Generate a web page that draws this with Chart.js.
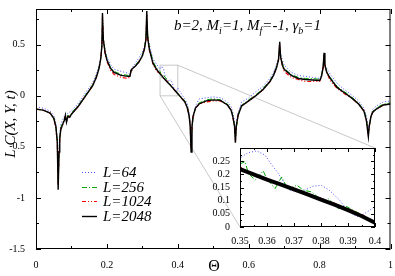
<!DOCTYPE html>
<html>
<head>
<meta charset="utf-8">
<script src="https://cdn.jsdelivr.net/npm/chart.js@4/dist/chart.umd.min.js"></script>
<style>
    html, body { margin: 0; padding: 0; background: #fff; }
    #wrap { position: relative; width: 395px; height: 276px; }
    #main { position: absolute; left: 0; top: 0; }
    #inset { position: absolute; left: 200px; top: 140px; }
</style>
</head>
<body>
<div id="wrap">
    <canvas id="main" width="395" height="276"></canvas>
    <canvas id="inset" width="185" height="105"></canvas>
</div>
<script>
// main panel data
const theta = [0, 0.02, 0.04, 0.05, 0.056, 0.06, 0.0625, 0.065, 0.067, 0.07, 0.075, 0.08, 0.083, 0.086, 0.09, 0.095, 0.1, 0.12, 0.14, 0.16,
    0.17, 0.178, 0.183, 0.186, 0.1875, 0.19, 0.195, 0.2, 0.21, 0.22, 0.24, 0.26, 0.265, 0.268, 0.27, 0.28, 0.29, 0.3, 0.306, 0.31,
    0.3125, 0.315, 0.32, 0.33, 0.34, 0.35, 0.355, 0.36, 0.365, 0.37, 0.375, 0.38, 0.385, 0.39, 0.395, 0.4, 0.41, 0.42, 0.427, 0.432,
    0.435, 0.4375, 0.44, 0.443, 0.45, 0.46, 0.48, 0.5, 0.52, 0.54, 0.55, 0.555, 0.56, 0.5625, 0.565, 0.57, 0.58, 0.6, 0.62, 0.64,
    0.66, 0.67, 0.678, 0.684, 0.6875, 0.69, 0.695, 0.7, 0.72, 0.74, 0.76, 0.78, 0.8, 0.802, 0.806, 0.81, 0.8125, 0.815, 0.82, 0.83,
    0.85, 0.87, 0.89, 0.91, 0.925, 0.932, 0.9375, 0.94, 0.945, 0.95, 0.96, 0.98, 1];

const valL2048 = [-0.13, -0.14, -0.17, -0.22, -0.3, -0.45, -0.92, -0.55, -0.42, -0.33, -0.28, -0.24, -0.19, -0.26, -0.2, -0.21, -0.18, -0.1, 0.0, 0.1,
    0.18, 0.27, 0.37, 0.5, 0.81, 0.55, 0.42, 0.35, 0.27, 0.23, 0.2, 0.19, 0.19, 0.25, 0.26, 0.29, 0.33, 0.39, 0.46, 0.55,
    0.83, 0.57, 0.45, 0.32, 0.26, 0.215, 0.195, 0.175, 0.155, 0.135, 0.118, 0.1, 0.08, 0.06, 0.04, 0.02, -0.02, -0.06, -0.12, -0.2,
    -0.3, -0.55, -0.3, -0.2, -0.12, -0.08, -0.05, -0.04, -0.045, -0.09, -0.14, -0.2, -0.3, -0.46, -0.3, -0.19, -0.1, -0.05, 0.0, 0.06,
    0.14, 0.2, 0.27, 0.35, 0.53, 0.38, 0.3, 0.26, 0.2, 0.17, 0.16, 0.155, 0.15, 0.16, 0.2, 0.28, 0.42, 0.3, 0.23, 0.17,
    0.08, 0.03, -0.02, -0.08, -0.15, -0.24, -0.4, -0.3, -0.2, -0.16, -0.13, -0.09, -0.08];

const valL1024 = [-0.13, -0.14, -0.17, -0.22, -0.31, -0.46, -0.88, -0.56, -0.43, -0.32, -0.29, -0.23, -0.2, -0.25, -0.21, -0.2, -0.18, -0.1, 0.0, 0.1,
    0.18, 0.27, 0.37, 0.5, 0.77, 0.55, 0.41, 0.34, 0.25, 0.21, 0.18, 0.17, 0.19, 0.24, 0.26, 0.29, 0.33, 0.39, 0.46, 0.55,
    0.79, 0.57, 0.45, 0.31, 0.24, 0.22, 0.2, 0.17, 0.16, 0.14, 0.12, 0.1, 0.08, 0.06, 0.04, 0.02, -0.02, -0.06, -0.12, -0.2,
    -0.3, -0.52, -0.31, -0.21, -0.12, -0.08, -0.06, -0.05, -0.05, -0.09, -0.14, -0.2, -0.3, -0.45, -0.31, -0.19, -0.1, -0.05, 0.0, 0.06,
    0.14, 0.2, 0.27, 0.35, 0.51, 0.38, 0.3, 0.24, 0.18, 0.16, 0.14, 0.14, 0.14, 0.16, 0.2, 0.28, 0.4, 0.3, 0.23, 0.15,
    0.07, 0.02, -0.02, -0.08, -0.15, -0.24, -0.38, -0.3, -0.2, -0.16, -0.13, -0.09, -0.08];

const valL256 = [-0.13, -0.14, -0.17, -0.21, -0.29, -0.44, -0.85, -0.58, -0.4, -0.31, -0.27, -0.22, -0.2, -0.24, -0.19, -0.2, -0.17, -0.09, 0.01, 0.11,
    0.19, 0.28, 0.38, 0.5, 0.72, 0.56, 0.44, 0.36, 0.28, 0.24, 0.21, 0.2, 0.19, 0.24, 0.26, 0.3, 0.34, 0.4, 0.47, 0.56,
    0.74, 0.6, 0.47, 0.34, 0.27, 0.24, 0.18, 0.2, 0.18, 0.15, 0.13, 0.1, 0.075, 0.06, 0.04, 0.025, -0.01, -0.05, -0.1, -0.19,
    -0.28, -0.48, -0.33, -0.22, -0.12, -0.07, -0.04, -0.03, -0.04, -0.08, -0.13, -0.19, -0.28, -0.42, -0.32, -0.2, -0.09, -0.04, 0.01, 0.07,
    0.15, 0.21, 0.28, 0.36, 0.48, 0.4, 0.32, 0.27, 0.21, 0.18, 0.17, 0.17, 0.16, 0.17, 0.21, 0.29, 0.38, 0.32, 0.24, 0.18,
    0.09, 0.04, -0.01, -0.07, -0.14, -0.22, -0.36, -0.31, -0.21, -0.15, -0.12, -0.08, -0.07];

const valL64 = [-0.11, -0.12, -0.15, -0.19, -0.27, -0.42, -0.74, -0.5, -0.37, -0.28, -0.23, -0.2, -0.18, -0.19, -0.17, -0.16, -0.15, -0.07, 0.03, 0.13,
    0.21, 0.3, 0.39, 0.48, 0.62, 0.52, 0.45, 0.38, 0.31, 0.26, 0.24, 0.22, 0.21, 0.24, 0.27, 0.32, 0.37, 0.43, 0.49, 0.56,
    0.66, 0.58, 0.5, 0.36, 0.31, 0.26, 0.289, 0.26, 0.18, 0.16, 0.14, 0.158, 0.12, 0.06, 0.045, 0.076, 0.02, -0.03, -0.08, -0.16,
    -0.25, -0.4, -0.3, -0.22, -0.1, -0.03, -0.02, -0.01, -0.02, -0.06, -0.1, -0.16, -0.25, -0.36, -0.27, -0.17, -0.06, -0.02, 0.04, 0.09,
    0.17, 0.23, 0.3, 0.36, 0.44, 0.41, 0.35, 0.3, 0.23, 0.2, 0.19, 0.18, 0.17, 0.18, 0.22, 0.28, 0.34, 0.31, 0.27, 0.21,
    0.12, 0.06, 0.01, -0.05, -0.12, -0.2, -0.32, -0.28, -0.2, -0.13, -0.1, -0.06, -0.05];

const xTicks = [0, 0.2, 0.4, 0.6, 0.8, 1];
const xMinor = [0.1, 0.3, 0.5, 0.7, 0.9];
const yTicks = [-1.5, -1, -0.5, 0, 0.5];
const yMinor = [-1.25, -0.75, -0.25, 0.25, 0.75];

// inset data
const insetTheta2048 = [0.35, 0.355, 0.36, 0.365, 0.37, 0.375, 0.38, 0.385, 0.39, 0.395, 0.4];
const insetL2048 = [0.22, 0.2, 0.18, 0.162, 0.143, 0.124, 0.104, 0.085, 0.064, 0.042, 0.016];
const insetTheta1024 = [0.35, 0.3525, 0.355, 0.3575, 0.36, 0.3625, 0.365, 0.3675, 0.37, 0.3725, 0.375, 0.3775, 0.38, 0.3825, 0.385, 0.3875, 0.39, 0.3925, 0.395, 0.3975, 0.4];
const insetL1024 = [0.228, 0.21, 0.203, 0.19, 0.186, 0.172, 0.166, 0.152, 0.15, 0.133, 0.128, 0.117, 0.11, 0.097, 0.09, 0.078, 0.07, 0.058, 0.048, 0.032, 0.018];
const insetTheta256 = [0.35, 0.3519, 0.3531, 0.3556, 0.3586, 0.3599, 0.363, 0.3654, 0.3679, 0.371, 0.3735, 0.3765, 0.379, 0.382, 0.3826, 0.3864, 0.389, 0.3932, 0.3975, 0.4];
const insetL256 = [0.24, 0.248, 0.203, 0.178, 0.213, 0.184, 0.146, 0.19, 0.14, 0.159, 0.14, 0.133, 0.112, 0.095, 0.108, 0.07, 0.08, 0.057, 0.032, 0.02];
const insetTheta64 = [0.35, 0.3506, 0.353, 0.3562, 0.3593, 0.3615, 0.3642, 0.3668, 0.3685, 0.371, 0.374, 0.377, 0.3802, 0.383, 0.387, 0.39, 0.3932, 0.395, 0.3975, 0.4];
const insetL64 = [0.255, 0.266, 0.282, 0.289, 0.273, 0.24, 0.203, 0.16, 0.14, 0.134, 0.14, 0.155, 0.158, 0.14, 0.101, 0.06, 0.04, 0.044, 0.06, 0.078];
const insetXTicks = [0.35, 0.36, 0.37, 0.38, 0.39, 0.4];
const insetXMinor = [0.355, 0.365, 0.375, 0.385, 0.395];
const insetYTicks = [0, 0.05, 0.1, 0.15, 0.2, 0.25];
const insetYMinor = [0.025, 0.075, 0.125, 0.175, 0.225, 0.275];

const seriesNames = ['L=64', 'L=256', 'L=1024', 'L=2048'];
const seriesColors = ['#5050ff', '#00a800', '#ff0000', '#000000'];
const seriesDash = [[1, 2], [5, 2, 1, 2], [4, 2, 1, 2, 1, 2], []];

const SERIF = '"Liberation Serif", "DejaVu Serif", serif';

function points(xs, ys) {
    return xs.map((x, i) => ({ x: x, y: ys[i] }));
}

function makeDatasets(sets, widths) {
    // sets in order L=64, 256, 1024, 2048; black drawn on top
    return sets.map((d, i) => ({
        label: seriesNames[i],
        data: d,
        borderColor: seriesColors[i],
        borderWidth: widths[i],
        borderDash: seriesDash[i],
        pointRadius: 0,
        tension: 0,
        fill: false,
        order: 3 - i
    }));
}

function drawFrameTicks(chart, xMaj, xMin, yMaj, yMin, majLen, minLen) {
    const ctx = chart.ctx;
    const a = chart.chartArea;
    const xs = chart.scales.x, ys = chart.scales.y;
    ctx.save();
    ctx.strokeStyle = '#000';
    ctx.lineWidth = 1;
    ctx.strokeRect(a.left + 0.5, a.top + 0.5, a.right - a.left - 1, a.bottom - a.top - 1);
    ctx.beginPath();
    const xt = (v, len) => {
        const p = Math.round(xs.getPixelForValue(v)) + 0.5;
        ctx.moveTo(p, a.bottom); ctx.lineTo(p, a.bottom - len);
        ctx.moveTo(p, a.top); ctx.lineTo(p, a.top + len);
    };
    const yt = (v, len) => {
        const p = Math.round(ys.getPixelForValue(v)) + 0.5;
        ctx.moveTo(a.left, p); ctx.lineTo(a.left + len, p);
        ctx.moveTo(a.right, p); ctx.lineTo(a.right - len, p);
    };
    xMaj.forEach(v => xt(v, majLen));
    xMin.forEach(v => xt(v, minLen));
    yMaj.forEach(v => yt(v, majLen));
    yMin.forEach(v => yt(v, minLen));
    ctx.stroke();
    ctx.restore();
}

// inset chart
const insetChart = new Chart(document.getElementById('inset'), {
    type: 'line',
    data: {
        datasets: makeDatasets([
            points(insetTheta64, insetL64),
            points(insetTheta256, insetL256),
            points(insetTheta1024, insetL1024),
            points(insetTheta2048, insetL2048)
        ], [1, 1, 1.2, 4])
    },
    options: {
        responsive: false,
        animation: false,
        layout: { padding: { top: 7, right: 10, left: 0, bottom: 0 } },
        plugins: { legend: { display: false }, tooltip: { enabled: false } },
        scales: {
            x: {
                type: 'linear', min: 0.35, max: 0.4,
                afterBuildTicks: s => { s.ticks = insetXTicks.map(v => ({ value: v })); },
                afterFit: s => { s.height = 18; },
                grid: { display: false }, border: { display: false },
                ticks: { font: { family: SERIF, size: 10 }, color: '#000', padding: 0, maxRotation: 0, autoSkip: false, callback: v => String(v) }
            },
            y: {
                type: 'linear', min: 0, max: 0.3,
                afterBuildTicks: s => { s.ticks = insetYTicks.map(v => ({ value: v })); },
                afterFit: s => { s.width = 40; },
                grid: { display: false }, border: { display: false },
                ticks: { font: { family: SERIF, size: 10 }, color: '#000', padding: 2, autoSkip: false, callback: v => String(v) }
            }
        }
    },
    plugins: [{
        id: 'insetDecor',
        beforeDatasetsDraw(chart) {
            const a = chart.chartArea;
            chart.ctx.save();
            chart.ctx.fillStyle = '#fff';
            chart.ctx.fillRect(a.left, a.top, a.right - a.left, a.bottom - a.top);
            chart.ctx.restore();
        },
        afterDraw(chart) {
            drawFrameTicks(chart, insetXTicks, insetXMinor, insetYTicks, insetYMinor, 4, 2);
        }
    }]
});

// main chart
const insetCanvas = document.getElementById('inset');

new Chart(document.getElementById('main'), {
    type: 'line',
    data: {
        datasets: makeDatasets([
            points(theta, valL64),
            points(theta, valL256),
            points(theta, valL1024),
            points(theta, valL2048)
        ], [1, 1, 1.2, 1.4])
    },
    options: {
        responsive: false,
        animation: false,
        layout: { padding: { top: 1, right: 3, left: 0, bottom: 0 } },
        plugins: { legend: { display: false }, tooltip: { enabled: false } },
        scales: {
            x: {
                type: 'linear', min: 0, max: 1,
                afterBuildTicks: s => { s.ticks = xTicks.map(v => ({ value: v })); },
                afterFit: s => { s.height = 27; },
                grid: { display: false }, border: { display: false },
                ticks: { font: { family: SERIF, size: 10 }, color: '#000', padding: 2, maxRotation: 0, autoSkip: false, callback: v => String(v) }
            },
            y: {
                type: 'linear', min: -1.5, max: 0.85,
                afterBuildTicks: s => { s.ticks = yTicks.map(v => ({ value: v })); },
                afterFit: s => { s.width = 36; },
                grid: { display: false }, border: { display: false },
                ticks: { font: { family: SERIF, size: 10 }, color: '#000', padding: 3, autoSkip: false, callback: v => String(v) }
            }
        }
    },
    plugins: [{
        id: 'mainDecor',
        beforeDatasetsDraw(chart) {
            // zoom box and connector lines to the inset
            const ctx = chart.ctx;
            const xs = chart.scales.x, ys = chart.scales.y;
            const ia = insetChart.chartArea;
            const ox = insetCanvas.offsetLeft, oy = insetCanvas.offsetTop;
            const bx0 = xs.getPixelForValue(0.35), bx1 = xs.getPixelForValue(0.4);
            const by0 = ys.getPixelForValue(0), by1 = ys.getPixelForValue(0.3);
            ctx.save();
            ctx.strokeStyle = '#c8c8c8';
            ctx.lineWidth = 1;
            ctx.strokeRect(bx0, by1, bx1 - bx0, by0 - by1);
            ctx.beginPath();
            ctx.moveTo(bx1, by1); ctx.lineTo(ox + ia.right, oy + ia.top);
            ctx.moveTo(bx0, by0); ctx.lineTo(ox + ia.left, oy + ia.bottom);
            ctx.stroke();
            ctx.restore();
        },
        afterDraw(chart) {
            const ctx = chart.ctx;
            drawFrameTicks(chart, xTicks, xMinor, yTicks, yMinor, 5, 3);

            ctx.save();
            ctx.fillStyle = '#000';

            // axis titles
            ctx.font = '16px ' + SERIF;
            ctx.textAlign = 'center';
            ctx.textBaseline = 'middle';
            ctx.fillText('\u0398', 214, 267);
            ctx.save();
            ctx.translate(11, 124);
            ctx.rotate(-Math.PI / 2);
            ctx.font = 'italic 15px ' + SERIF;
            ctx.fillText('L C(X, Y, t)', 0, 0);
            ctx.restore();

            // parameter annotation with subscripts
            const big = 'italic 15px ' + SERIF;
            const small = 'italic 10px ' + SERIF;
            const parts = [
                ['b=2, M', big, 0], ['i', small, 4], ['=1, M', big, 0], ['f', small, 4],
                ['=-1, \u03b3', big, 0], ['b', small, 4], ['=1', big, 0]
            ];
            ctx.textAlign = 'left';
            ctx.textBaseline = 'alphabetic';
            let x = 174;
            parts.forEach(p => {
                ctx.font = p[1];
                ctx.fillText(p[0], x, 30 + p[2]);
                x += ctx.measureText(p[0]).width;
            });

            // legend
            const rows = [172, 187, 201, 216];
            rows.forEach((y, i) => {
                ctx.beginPath();
                ctx.strokeStyle = seriesColors[i];
                ctx.lineWidth = i === 3 ? 1.4 : 1.2;
                ctx.setLineDash(seriesDash[i]);
                ctx.moveTo(82, y + 0.5);
                ctx.lineTo(97, y + 0.5);
                ctx.stroke();
                ctx.setLineDash([]);
                ctx.font = 'italic 15px ' + SERIF;
                ctx.textBaseline = 'middle';
                ctx.fillText(seriesNames[i], 103, y + 1);
            });
            ctx.restore();
        }
    }]
});
</script>
</body>
</html>
